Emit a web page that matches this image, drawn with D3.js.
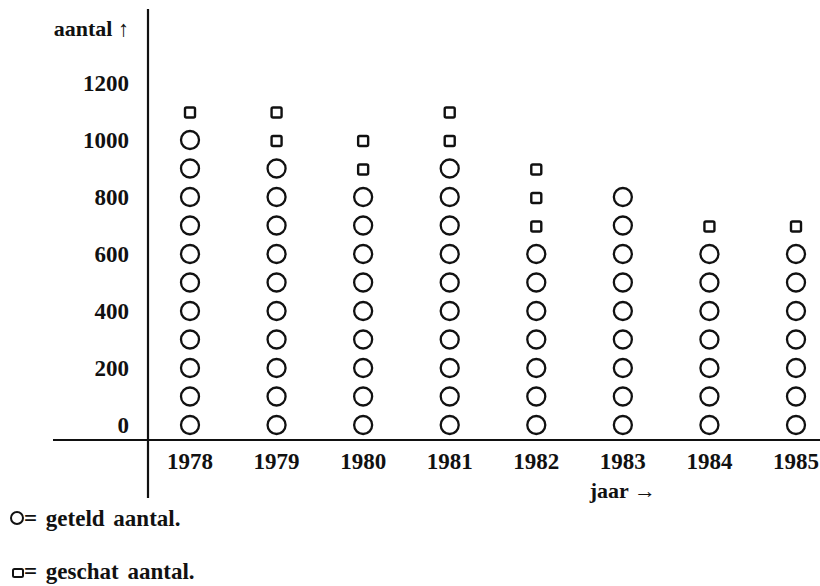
<!DOCTYPE html>
<html>
<head>
<meta charset="utf-8">
<script src="https://cdn.jsdelivr.net/npm/d3@7"></script>
<style>
  html, body { margin: 0; padding: 0; background: #fff; }
  svg text { font-family: "Liberation Serif", "Times New Roman", serif; font-weight: bold; fill: #111; }
</style>
</head>
<body>
<svg id="chart" width="820" height="586"></svg>
<script>
// Data
const years = [1978, 1979, 1980, 1981, 1982, 1983, 1984, 1985];
const geteld = [1000, 900, 800, 900, 600, 800, 600, 600];   // top level of counted (circles)
const geschat = [1100, 1100, 1000, 1100, 900, 800, 700, 700]; // top level incl. estimated (squares)
const yTicks = [0, 200, 400, 600, 800, 1000, 1200];
const step = 100;

const svg = d3.select("#chart");

const x = d3.scalePoint().domain(years).range([190, 796]);
const y = d3.scaleLinear().domain([0, 1200]).range([425, 83]);

// axes lines
svg.append("line").attr("x1", 148).attr("x2", 148).attr("y1", 9).attr("y2", 498)
  .attr("stroke", "#111").attr("stroke-width", 2.2);
svg.append("line").attr("x1", 53).attr("x2", 820).attr("y1", 440).attr("y2", 440)
  .attr("stroke", "#111").attr("stroke-width", 2.2);

// y tick labels
svg.append("g").selectAll("text").data(yTicks).join("text")
  .attr("x", 129).attr("y", d => y(d)).attr("dy", "0.35em")
  .attr("text-anchor", "end").attr("font-size", 23).text(d => d);

svg.append("text").attr("x", 129).attr("y", 28).attr("dy", "0.35em")
  .attr("text-anchor", "end").attr("font-size", 22).text("aantal \u2191");

// x labels
svg.append("g").selectAll("text").data(years).join("text")
  .attr("x", d => x(d)).attr("y", 461).attr("dy", "0.35em")
  .attr("text-anchor", "middle").attr("font-size", 23).text(d => d);

svg.append("text").attr("x", x(1983)).attr("y", 490).attr("dy", "0.35em")
  .attr("text-anchor", "middle").attr("font-size", 22).text("jaar \u2192");

// marks
const circles = [], squares = [];
years.forEach((yr, i) => {
  d3.range(0, geteld[i] + 1, step).forEach(v => circles.push({yr, v}));
  d3.range(geteld[i] + step, geschat[i] + 1, step).forEach(v => squares.push({yr, v}));
});

svg.append("g").selectAll("circle").data(circles).join("circle")
  .attr("cx", d => x(d.yr)).attr("cy", d => y(d.v)).attr("r", 9)
  .attr("fill", "none").attr("stroke", "#111").attr("stroke-width", 2.3);

const sq = 10;
svg.append("g").selectAll("rect").data(squares).join("rect")
  .attr("x", d => x(d.yr) - sq / 2).attr("y", d => y(d.v) - sq / 2 + 1)
  .attr("width", sq).attr("height", sq).attr("rx", 1.5)
  .attr("fill", "none").attr("stroke", "#111").attr("stroke-width", 2.4);

// legend
svg.append("circle").attr("cx", 17).attr("cy", 518).attr("r", 6)
  .attr("fill", "none").attr("stroke", "#111").attr("stroke-width", 2);
svg.append("text").attr("x", 24).attr("y", 518).attr("dy", "0.35em")
  .attr("font-size", 23).attr("word-spacing", 3).text("= geteld aantal.");

svg.append("rect").attr("x", 13).attr("y", 569).attr("width", 10).attr("height", 8).attr("rx", 1.5)
  .attr("fill", "none").attr("stroke", "#111").attr("stroke-width", 2);
svg.append("text").attr("x", 24).attr("y", 571).attr("dy", "0.35em")
  .attr("font-size", 23).attr("word-spacing", 3).text("= geschat aantal.");
</script>
</body>
</html>
